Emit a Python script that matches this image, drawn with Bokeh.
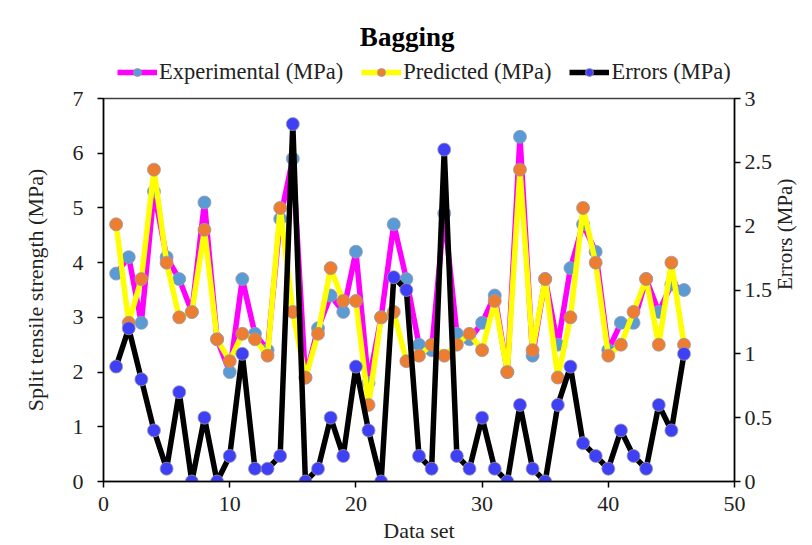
import math
from bokeh.plotting import figure
from bokeh.layouts import column
from bokeh.models import Range1d, LinearAxis, Legend, LegendItem, FixedTicker, Label
from bokeh.embed import file_html
from bokeh.resources import INLINE

data_set = list(range(1, 47))
experimental = [3.8, 4.1, 2.9, 5.3, 4.1, 3.7, 3.1, 5.1, 2.6, 2.0,
                3.7, 2.7, 2.4, 4.8, 5.9, 1.9, 2.8, 3.4, 3.1, 4.2,
                1.8, 3.0, 4.7, 3.7, 2.5, 2.4, 4.9, 2.7, 2.6, 2.9,
                3.4, 2.0, 6.3, 2.3, 3.7, 2.5, 3.9, 4.7, 4.2, 2.4,
                2.9, 2.9, 3.7, 3.1, 3.6, 3.5]
predicted = [4.7, 2.9, 3.7, 5.7, 4.0, 3.0, 3.1, 4.6, 2.6, 2.2,
             2.7, 2.6, 2.3, 5.0, 3.1, 1.9, 2.7, 3.9, 3.3, 3.3,
             1.4, 3.0, 3.1, 2.2, 2.3, 2.5, 2.3, 2.5, 2.7, 2.4,
             3.3, 2.0, 5.7, 2.4, 3.7, 1.9, 3.0, 5.0, 4.0, 2.3,
             2.5, 3.1, 3.7, 2.5, 4.0, 2.5]
errors = [0.9, 1.2, 0.8, 0.4, 0.1, 0.7, 0.0, 0.5, 0.0, 0.2,
          1.0, 0.1, 0.1, 0.2, 2.8, 0.0, 0.1, 0.5, 0.2, 0.9,
          0.4, 0.0, 1.6, 1.5, 0.2, 0.1, 2.6, 0.2, 0.1, 0.5,
          0.1, 0.0, 0.6, 0.1, 0.0, 0.6, 0.9, 0.3, 0.2, 0.1,
          0.4, 0.2, 0.1, 0.6, 0.4, 1.0]

series_names = ["Experimental (MPa)", "Predicted (MPa)", "Errors (MPa)"]
line_colors = ["#FF00FF", "#FFFF00", "#000000"]
marker_colors = ["#5B9BD5", "#ED7D31", "#3F3FF5"]

x_ticks = [0, 10, 20, 30, 40, 50]
left_ticks = [0, 1, 2, 3, 4, 5, 6, 7]
right_ticks = [0, 0.5, 1, 1.5, 2, 2.5, 3]
right_labels = ["0", "0.5", "1", "1.5", "2", "2.5", "3"]

FONT = "Liberation Serif"
FS = "22px"
W, H = 812, 545
HEAD_H = 85
LEFT, RIGHT = 103, 71
MK_LINE = "#9a9aaa"

# ---------------- header (title + legend) ----------------
hp = figure(width=W, height=HEAD_H, output_backend="svg", toolbar_location=None,
            x_range=Range1d(LEFT, W - RIGHT), y_range=Range1d(0, HEAD_H),
            x_axis_type=None, y_axis_type=None,
            min_border_left=LEFT, min_border_right=RIGHT, min_border_top=0, min_border_bottom=0)
hp.outline_line_color = None
hp.xgrid.visible = False
hp.ygrid.visible = False

title = Label(x=410, y=HEAD_H - 36, text="Bagging", text_font=FONT, text_font_size="27px",
              text_font_style="bold", text_align="center", text_baseline="middle",
              text_color="black")
hp.add_layout(title)

items = []
nan = float("nan")
for name, lc, mc in zip(series_names, line_colors, marker_colors):
    lr = hp.line([nan], [nan], line_color=lc, line_width=5.5)
    sr = hp.scatter([nan], [nan], size=13, fill_color=mc, line_color=MK_LINE, line_width=0.8)
    items.append(LegendItem(label=name, renderers=[lr, sr]))

legend = Legend(items=items, orientation="horizontal", location=(14, 0),
                label_text_font=FONT, label_text_font_size="22.5px", label_text_color="#222222",
                glyph_width=40, glyph_height=20, label_standoff=2, spacing=18,
                padding=0, margin=0, border_line_color=None, background_fill_alpha=0)
hp.add_layout(legend, "center")

# ---------------- main chart ----------------
p = figure(width=W, height=H - HEAD_H, output_backend="svg", toolbar_location=None,
           x_range=Range1d(0, 50), y_range=Range1d(0, 7),
           min_border_left=LEFT, min_border_right=RIGHT, min_border_top=98 - HEAD_H,
           min_border_bottom=64)
p.extra_y_ranges = {"err": Range1d(0, 3)}

p.xgrid.visible = False
p.ygrid.visible = False
p.outline_line_color = "#404040"
p.outline_line_width = 1.5


def style_axis(ax):
    ax.axis_line_color = "black"
    ax.axis_line_width = 1.5
    ax.major_tick_line_color = "black"
    ax.major_tick_line_width = 1.5
    ax.major_tick_out = 6
    ax.major_tick_in = 0
    ax.minor_tick_line_color = None
    ax.major_label_text_font = FONT
    ax.major_label_text_font_size = FS
    ax.major_label_text_color = "#222222"
    ax.axis_label_text_font = FONT
    ax.axis_label_text_font_size = FS
    ax.axis_label_text_font_style = "normal"
    ax.axis_label_text_color = "#222222"


p.xaxis.ticker = FixedTicker(ticks=x_ticks)
p.xaxis.axis_label = "Data set"
p.yaxis.ticker = FixedTicker(ticks=left_ticks)
p.yaxis.axis_label = "Split tensile strength (MPa)"
style_axis(p.xaxis[0])
style_axis(p.yaxis[0])
p.xaxis.major_label_standoff = 9
p.xaxis.axis_label_standoff = 4
p.yaxis.major_label_standoff = 14
p.yaxis.axis_label_standoff = 22

raxis = LinearAxis(y_range_name="err", ticker=FixedTicker(ticks=right_ticks),
                   axis_label="Errors (MPa)")
raxis.major_label_overrides = {t: l for t, l in zip(right_ticks, right_labels)}
style_axis(raxis)
raxis.axis_label_text_font_size = "21px"
raxis.major_label_standoff = 4
raxis.axis_label_standoff = 10
try:
    raxis.axis_label_orientation = math.pi / 2
except Exception:
    pass
p.add_layout(raxis, "right")

p.line(data_set, experimental, line_color=line_colors[0], line_width=5.5)
p.scatter(data_set, experimental, size=13, fill_color=marker_colors[0], line_color=MK_LINE, line_width=0.8)
p.line(data_set, predicted, line_color=line_colors[1], line_width=5.5)
p.scatter(data_set, predicted, size=13, fill_color=marker_colors[1], line_color=MK_LINE, line_width=0.8)
p.line(data_set, errors, line_color=line_colors[2], line_width=5.5, y_range_name="err")
p.scatter(data_set, errors, size=13, fill_color=marker_colors[2], line_color=MK_LINE, line_width=0.8,
          y_range_name="err")

layout = column(hp, p, spacing=0)
open("out.html", "w").write(file_html(layout, INLINE))
